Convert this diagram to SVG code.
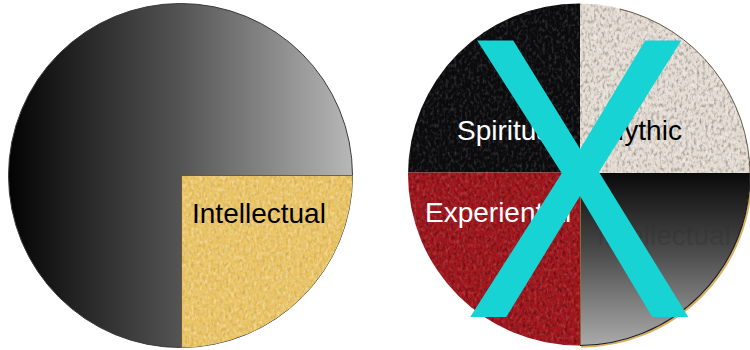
<svg xmlns="http://www.w3.org/2000/svg" width="750" height="350" viewBox="0 0 750 350">
  <defs>
    <style>
      .lbl { font-family: "Liberation Sans", Arial, sans-serif; font-size: 28px; }
      .white { fill: #ffffff; }
      .black { fill: #000000; }
    </style>
    <linearGradient id="gLeft" x1="8" y1="0" x2="353" y2="0" gradientUnits="userSpaceOnUse">
      <stop offset="0" stop-color="#030303"/>
      <stop offset="0.5" stop-color="#545454"/>
      <stop offset="1" stop-color="#b8b8b8"/>
    </linearGradient>
    <linearGradient id="gBR" x1="0" y1="173" x2="0" y2="346" gradientUnits="userSpaceOnUse">
      <stop offset="0" stop-color="#0a0a0a"/>
      <stop offset="0.45" stop-color="#4a4a4a"/>
      <stop offset="1" stop-color="#ababab"/>
    </linearGradient>
    <filter id="grain" x="0" y="0" width="100%" height="100%">
      <feTurbulence type="fractalNoise" baseFrequency="0.35 0.25" numOctaves="2" seed="4" result="n"/>
      <feColorMatrix in="n" type="matrix" values="0 0 0 0 1  0 0 0 0 1  0 0 0 0 1  2.2 0 0 0 -1.0" result="w"/>
      <feComposite in="w" in2="SourceAlpha" operator="in"/>
    </filter>
    <filter id="grainDark" x="0" y="0" width="100%" height="100%">
      <feTurbulence type="fractalNoise" baseFrequency="0.35 0.25" numOctaves="2" seed="9" result="n"/>
      <feColorMatrix in="n" type="matrix" values="0 0 0 0 0  0 0 0 0 0  0 0 0 0 0  2.2 0 0 0 -1.0" result="d"/>
      <feComposite in="d" in2="SourceAlpha" operator="in"/>
    </filter>
    <clipPath id="cRight">
      <circle cx="579" cy="174.5" r="171"/>
    </clipPath>
  </defs>

  <g id="left-wheel">
    <circle cx="180.5" cy="175.5" r="172" fill="url(#gLeft)" stroke="#3a3a3a" stroke-width="1"/>
    <g id="intellectual-left">
      <path d="M181.5,175.5 H352.5 A172,172 0 0 1 181.5,347.4 Z" fill="#ebc463"/>
      <path d="M181.5,175.5 H352.5 A172,172 0 0 1 181.5,347.4 Z" fill="#000" filter="url(#grain)" opacity="0.45"/>
      <path d="M181.5,175.5 H352.5 A172,172 0 0 1 181.5,347.4 Z" fill="#000" filter="url(#grainDark)" opacity="0.12"/>
      <path d="M181.5,347 V175.5 H352.5" fill="none" stroke="#5a4a2a" stroke-width="0.8"/>
      <text class="lbl black" x="192" y="223">Intellectual</text>
    </g>
  </g>

  <g id="right-wheel">
    <g clip-path="url(#cRight)">
      <g id="spiritual">
        <rect x="400" y="0" width="180" height="172.5" fill="#0b0b0d"/>
        <rect x="400" y="0" width="180" height="172.5" fill="#000" filter="url(#grain)" opacity="0.18"/>
        <text class="lbl white" x="457" y="140">Spiritual</text>
      </g>
      <g id="mythic">
        <rect x="580" y="0" width="175" height="173" fill="#e4dcd2"/>
        <rect x="580" y="0" width="175" height="173" fill="#000" filter="url(#grainDark)" opacity="0.35"/>
        <rect x="580" y="0" width="175" height="173" fill="#000" filter="url(#grain)" opacity="0.5"/>
        <text class="lbl black" x="601" y="140">Mythic</text>
      </g>
      <g id="experiential">
        <rect x="400" y="172.5" width="180" height="180" fill="#a2161d"/>
        <rect x="400" y="172.5" width="180" height="180" fill="#000" filter="url(#grainDark)" opacity="0.4"/>
        <rect x="400" y="172.5" width="180" height="180" fill="#000" filter="url(#grain)" opacity="0.18"/>
        <text class="lbl white" x="425" y="222">Experiential</text>
      </g>
      <g id="intellectual-right">
        <rect x="580" y="173" width="175" height="180" fill="url(#gBR)"/>
        <line x1="580.5" y1="173" x2="580.5" y2="350" stroke="#8a6a30" stroke-width="1"/>
        <text class="lbl" x="597" y="245" fill="#2c2c2c" fill-opacity="0.3">Intellectual</text>
      </g>
    </g>
    <path d="M750,174.5 A171,171 0 0 1 580,345.5" fill="none" stroke="#d8b060" stroke-width="2" transform="translate(1.2,1.2)"/>
    <path d="M750,174.5 A171,171 0 0 1 580,345.5" fill="none" stroke="#1e1e1e" stroke-width="1.2"/>
    <path d="M620,9 A171,171 0 0 1 750,174.5" fill="none" stroke="#6a5a4a" stroke-width="1"/>
  </g>

  <g id="cross-out">
    <text transform="translate(579,317) scale(0.87,1)" x="0" y="0" text-anchor="middle" font-family="'Liberation Sans', Arial, sans-serif" font-size="402" fill="#17d3d3">X</text>
  </g>
</svg>
